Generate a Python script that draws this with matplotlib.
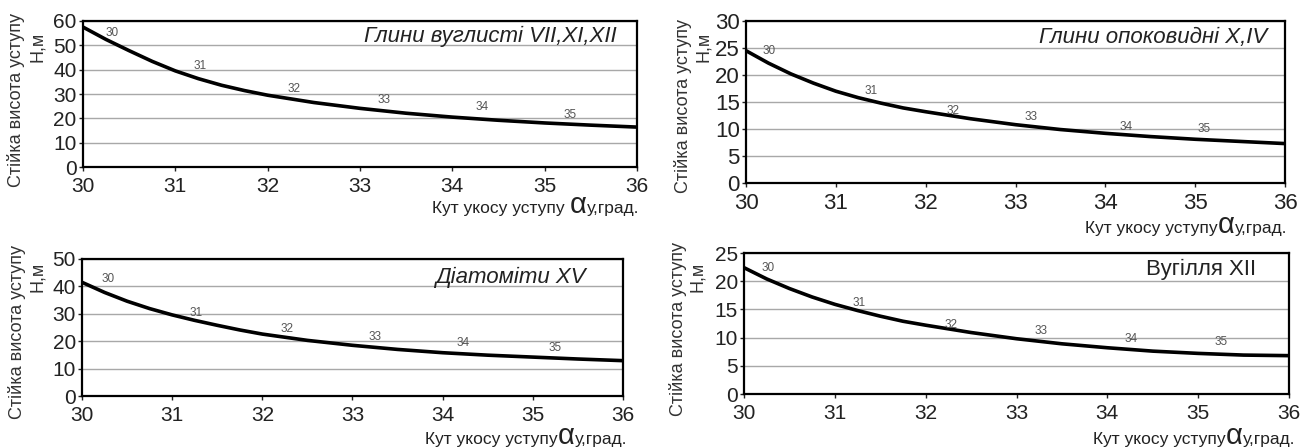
import matplotlib
matplotlib.use("Agg")
import matplotlib.pyplot as plt

plt.rcParams['font.family'] = ['Liberation Sans', 'DejaVu Sans']

# кут укосу, град.
angles = [30, 30.25, 30.5, 30.75, 31, 31.25, 31.5, 31.75, 32, 32.5, 33, 33.5, 34, 34.5, 35, 35.5, 36]

# стійка висота уступу, м (зчитано з графіків)
h_glyny_vuhl = [57.5, 52.4, 47.8, 43.4, 39.5, 36.3, 33.6, 31.4, 29.5, 26.5, 24.1, 22.1, 20.5, 19.2, 18.1, 17.2, 16.4]
h_glyny_opok = [24.5, 22.2, 20.2, 18.5, 17.0, 15.8, 14.8, 13.9, 13.2, 11.9, 10.8, 9.9, 9.2, 8.6, 8.1, 7.7, 7.3]
h_diatomity = [41.5, 37.8, 34.6, 31.9, 29.6, 27.6, 25.8, 24.1, 22.6, 20.3, 18.5, 17.0, 15.8, 14.9, 14.2, 13.5, 12.9]
h_vuhillia = [22.4, 20.4, 18.7, 17.2, 15.9, 14.8, 13.8, 12.9, 12.2, 10.9, 9.8, 8.9, 8.2, 7.6, 7.2, 6.9, 6.8]

# підписи точок на кривих
pt_labels = ["30", "31", "32", "33", "34", "35"]
pt_x1 = [30.32, 31.27, 32.29, 33.26, 34.32, 35.28]
pt_y1 = [55.0, 41.4, 32.0, 27.7, 24.7, 21.5]
pt_x2 = [30.26, 31.39, 32.30, 33.17, 34.23, 35.10]
pt_y2 = [24.5, 17.0, 13.4, 12.3, 10.4, 10.0]
pt_x3 = [30.29, 31.26, 32.27, 33.25, 34.23, 35.25]
pt_y3 = [42.7, 30.4, 24.4, 21.4, 19.2, 17.7]
pt_x4 = [30.27, 31.27, 32.28, 33.27, 34.26, 35.25]
pt_y4 = [22.3, 16.1, 12.3, 11.25, 9.8, 9.3]

titles = ["Глини вуглисті VII,XI,XII", "Глини опоковидні X,IV", "Діатоміти XV", "Вугілля XII"]
yticks1 = [0, 10, 20, 30, 40, 50, 60]
yticks2 = [0, 5, 10, 15, 20, 25, 30]
yticks3 = [0, 10, 20, 30, 40, 50]
yticks4 = [0, 5, 10, 15, 20, 25]
xticks = [30, 31, 32, 33, 34, 35, 36]

W, H = 1301, 448
fig = plt.figure(figsize=(W / 100, H / 100), dpi=100)

def px_axes(l, t, r, b):
    return fig.add_axes([l / W, 1 - b / H, (r - l) / W, (b - t) / H])

panels = [
    # box(px), values, labels x/y, yticks, title, title offset, italic, xlabel gap/right, ylabel pos, tick size, space
    dict(box=(83, 21, 637, 167), h=h_glyny_vuhl, lx=pt_x1, ly=pt_y1, yt=yticks1,
         title=titles[0], toff=(-20, -15), it=True, xl=(46, 2), yl=(16, 100, 37, 47), fs=15, sp=" "),
    dict(box=(746, 21, 1285, 183), h=h_glyny_opok, lx=pt_x2, ly=pt_y2, yt=yticks2,
         title=titles[1], toff=(-18, -16), it=True, xl=(50, 2), yl=(683, 106, 703, 47), fs=16, sp=""),
    dict(box=(82, 259, 623, 396), h=h_diatomity, lx=pt_x3, ly=pt_y3, yt=yticks3,
         title=titles[2], toff=(-37, -18), it=True, xl=(48, 4), yl=(17, 332, 38, 277), fs=15, sp=""),
    dict(box=(744, 253, 1289, 394), h=h_vuhillia, lx=pt_x4, ly=pt_y4, yt=yticks4,
         title=titles[3], toff=(-33, -16), it=False, xl=(50, 6), yl=(678, 329, 698, 277), fs=15, sp=""),
]

for p in panels:
    ax = px_axes(*p['box'])
    ax.plot(angles, p['h'], color='black', lw=2.6, solid_capstyle='butt',
            solid_joinstyle='round', zorder=3)
    for s, x, y in zip(pt_labels, p['lx'], p['ly']):
        ax.text(x, y, s, fontsize=8.5, color='#555555', ha='center', va='center', zorder=4)

    ax.set_xlim(30, 36)
    ax.set_ylim(p['yt'][0], p['yt'][-1])
    ax.set_xticks(xticks)
    ax.set_yticks(p['yt'])
    ax.grid(axis='y', color='#a8a8a8', lw=1.0)
    ax.set_axisbelow(True)
    for sp in ax.spines.values():
        sp.set_linewidth(1.6)
    ax.tick_params(axis='both', direction='out', length=3, width=1, labelsize=p['fs'],
                   colors='#222222')
    ax.tick_params(axis='x', pad=4)
    ax.tick_params(axis='y', pad=1.5)

    ax.annotate(p['title'], xy=(1, 1), xycoords='axes fraction', xytext=p['toff'],
                textcoords='offset pixels', ha='right', va='center', fontsize=16,
                style='italic' if p['it'] else 'normal', color='#222222')

    # підпис осі x: "Кут укосу уступу αу,град."
    gap, dx = p['xl']
    t1 = ax.annotate("у,град.", xy=(1, 0), xycoords='axes fraction', xytext=(dx, -gap),
                     textcoords='offset pixels', ha='right', va='baseline', fontsize=12.5,
                     color='#222222')
    t2 = ax.annotate("α", xy=(0, 0), xycoords=(t1, 'axes fraction'), xytext=(0, -gap),
                     textcoords='offset pixels', ha='right', va='baseline', fontsize=21,
                     color='#222222')
    ax.annotate("Кут укосу уступу" + p['sp'], xy=(0, 0), xycoords=(t2, 'axes fraction'),
                xytext=(0, -gap), textcoords='offset pixels', ha='right', va='baseline',
                fontsize=12.5, color='#222222')

    # підпис осі y у два рядки
    x1, y1, x2, y2 = p['yl']
    fig.text(x1 / W, 1 - y1 / H, "Стійка висота уступу", rotation=90, ha='center',
             va='center', fontsize=13, color='#333333')
    fig.text(x2 / W, 1 - y2 / H, "Н,м", rotation=90, ha='center', va='center',
             fontsize=13, color='#333333')

fig.savefig("out.png", dpi=100)
